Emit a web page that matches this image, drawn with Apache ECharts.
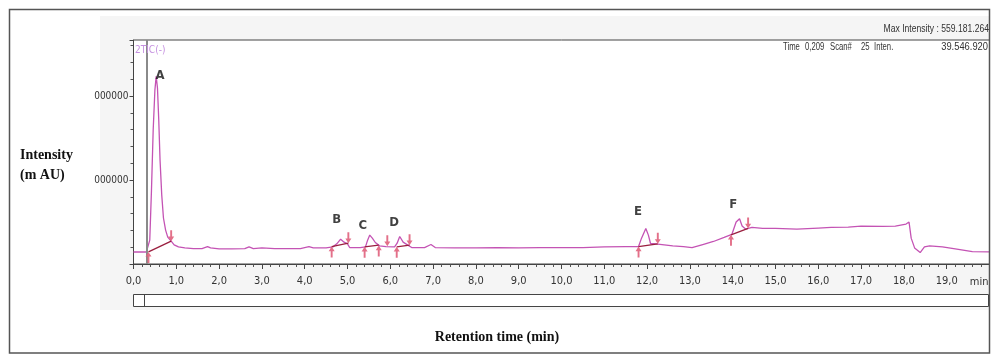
<!DOCTYPE html>
<html>
<head>
<meta charset="utf-8">
<script src="https://cdn.jsdelivr.net/npm/echarts@6/dist/echarts.min.js"></script>
<style>
html,body{margin:0;padding:0;background:#fff;}
#chart{width:992px;height:356px;}
</style>
</head>
<body>
<div id="chart"></div>
<script>
// ---- data (retention time in min, intensity in counts) ----
const times = [0.00,0.30,0.34,0.38,0.42,0.46,0.50,0.53,0.56,0.59,0.62,0.66,0.70,0.75,0.80,0.88,0.95,1.05,1.20,1.40,1.60,1.73,1.80,2.00,2.30,2.60,2.70,2.80,3.00,3.30,3.60,3.90,4.10,4.20,4.50,4.66,4.75,4.84,4.92,5.00,5.05,5.30,5.42,5.47,5.52,5.58,5.65,5.75,5.90,6.10,6.16,6.22,6.30,6.40,6.50,6.80,6.95,7.05,7.50,8.00,8.50,9.00,9.50,10.00,10.50,11.00,11.50,11.80,11.87,11.97,12.03,12.08,12.20,12.35,12.60,12.85,13.05,13.30,13.55,13.80,13.98,14.08,14.16,14.22,14.30,14.45,14.70,15.00,15.50,16.00,16.30,16.70,17.00,17.50,17.80,18.05,18.12,18.17,18.25,18.38,18.48,18.60,18.90,19.20,19.60,20.00];
const intensity = [35.7e6,35.7e6,38.7e6,71e6,220e6,399e6,518e6,559e6,524e6,429e6,310e6,205e6,137e6,101e6,80e6,68e6,57e6,51e6,48e6,46e6,46e6,52e6,48e6,45e6,45e6,46e6,51e6,46e6,48e6,46e6,46e6,46e6,52e6,48e6,48e6,51e6,60e6,74e6,65e6,60e6,49e6,49e6,51e6,71e6,86e6,77e6,64e6,54e6,52e6,51e6,62e6,82e6,65e6,57e6,49e6,49e6,58e6,49e6,48e6,48e6,49e6,48e6,49e6,49e6,49e6,51e6,52e6,52e6,77e6,106e6,86e6,61e6,60e6,58e6,54e6,52e6,49e6,58e6,67e6,79e6,88e6,125e6,135e6,113e6,104e6,109e6,106e6,106e6,104e6,107e6,109e6,110e6,113e6,112e6,113e6,119e6,125e6,77e6,48e6,34e6,51e6,54e6,51e6,45e6,37e6,36e6];

// integration baselines under peaks: [startT, startI, endT, endI]
const baseStartT = [0.35, 4.63, 5.40, 6.15, 11.80, 13.96];
const baseStartI = [36e6, 52e6, 51e6, 51e6, 52e6, 87e6];
const baseEndT   = [0.88, 5.02, 5.73, 6.45, 12.25, 14.36];
const baseEndI   = [68e6, 62e6, 56e6, 56e6, 60e6, 106e6];

// peak start (up) / end (down) markers
const upArrowT = [0.35, 4.63, 5.40, 5.73, 6.15, 11.80, 13.96];
const upArrowI = [36e6, 52e6, 51e6, 55e6, 51e6, 52e6, 87e6];
const downArrowT = [0.88, 5.02, 5.93, 6.45, 12.25, 14.36];
const downArrowI = [68e6, 62e6, 53e6, 56e6, 60e6, 106e6];

// peak names
const peakNames = ['A','B','C','D','E','F'];
const peakLabelT = [0.62, 4.75, 5.36, 6.09, 11.79, 14.01];
const peakLabelI = [562e6, 131e6, 113e6, 122e6, 155e6, 176e6];

// tick labels
const xTickLabels = ['0,0','1,0','2,0','3,0','4,0','5,0','6,0','7,0','8,0','9,0','10,0','11,0','12,0','13,0','14,0','15,0','16,0','17,0','18,0','19,0'];
const yTickValues = [250e6, 500e6];
const yTickLabels = ['000000', '000000'];

const cursorTime = 0.31;

// ---- build ----
const narrow = "'Liberation Sans Narrow','DejaVu Sans Condensed','Liberation Sans',sans-serif";
const serif = "'Liberation Serif','DejaVu Serif',serif";
const hdrFont = "11px 'Liberation Sans',sans-serif";
const trace = times.map((t, i) => [t, intensity[i]]);
const baseSeries = baseStartT.map((t, i) => ({
  type: 'line', silent: true, symbol: 'none', z: 4,
  lineStyle: { color: '#9a1f3f', width: 1.3 },
  data: [[t, baseStartI[i]], [baseEndT[i], baseEndI[i]]]
}));
const arrowPath = 'path://M5,0 L10,6 L6.6,6 L6.6,14 L3.4,14 L3.4,6 L0,6 Z';

function hdr(text, x, y, align, sx) {
  return { type: 'text', z: 100, x: x, y: y, scaleX: sx, silent: true,
    style: { text: text, font: hdrFont, fill: '#333', textAlign: align, textVerticalAlign: 'middle' } };
}

const chart = echarts.init(document.getElementById('chart'), null, { renderer: 'canvas' });
chart.setOption({
  backgroundColor: '#ffffff',
  animation: false,
  grid: { left: 133.5, right: 2.5, top: 40, bottom: 92, show: true, backgroundColor: '#ffffff', borderColor: '#444', borderWidth: 1, z: 1 },
  xAxis: {
    type: 'value', min: 0, max: 20, interval: 1,
    name: 'min', nameLocation: 'end', nameGap: -1,
    nameTextStyle: { fontFamily: narrow, fontSize: 11, color: '#333', align: 'right', verticalAlign: 'top', padding: [13, 0, 0, 0] },
    axisLine: { show: true, lineStyle: { color: '#444', width: 1 } },
    axisTick: { show: true, length: 5, lineStyle: { color: '#444' } },
    minorTick: { show: true, splitNumber: 5, length: 3, lineStyle: { color: '#555' } },
    axisLabel: { margin: 12, fontFamily: narrow, fontSize: 11, color: '#333', showMaxLabel: false,
      formatter: v => { const k = Math.round(v); return xTickLabels[k] !== undefined ? xTickLabels[k] : ''; } },
    splitLine: { show: true, lineStyle: { color: '#d4d4d4', type: [3, 3], width: 1 } },
    minorSplitLine: { show: false }
  },
  yAxis: {
    type: 'value', min: 0, max: 667e6, interval: 250e6,
    axisLine: { show: true, lineStyle: { color: '#444', width: 1 } },
    axisTick: { show: true, length: 4, lineStyle: { color: '#444' } },
    minorTick: { show: true, splitNumber: 5, length: 3, lineStyle: { color: '#555' } },
    axisLabel: { margin: 5, fontFamily: narrow, fontSize: 10, color: '#333', showMinLabel: false, showMaxLabel: false,
      formatter: v => { const k = yTickValues.indexOf(v); return k >= 0 ? yTickLabels[k] : ''; } },
    splitLine: { show: true, lineStyle: { color: '#d4d4d4', type: [3, 3], width: 1 } }
  },
  series: [
    {
      type: 'line', name: '2TIC(-)', symbol: 'none', z: 3,
      lineStyle: { color: '#c453b4', width: 1.3 },
      data: trace,
      markLine: {
        silent: true, symbol: 'none', label: { show: false },
        lineStyle: { color: '#8a8a8a', width: 2, type: 'solid' },
        data: [{ xAxis: cursorTime }]
      }
    },
    ...baseSeries,
    {
      type: 'scatter', silent: true, z: 5,
      symbol: arrowPath, symbolSize: [6, 11], symbolOffset: [0, '50%'],
      itemStyle: { color: '#e0607c', opacity: 0.9 },
      data: upArrowT.map((t, i) => [t, upArrowI[i]])
    },
    {
      type: 'scatter', silent: true, z: 5,
      symbol: arrowPath, symbolSize: [6, 11], symbolRotate: 180, symbolOffset: [0, '-50%'],
      itemStyle: { color: '#e0607c', opacity: 0.9 },
      data: downArrowT.map((t, i) => [t, downArrowI[i]])
    },
    {
      type: 'scatter', silent: true, z: 6, symbolSize: 1,
      itemStyle: { color: 'rgba(0,0,0,0)' },
      label: { show: true, position: 'inside', formatter: p => p.name,
        fontFamily: narrow, fontWeight: 'bold', fontSize: 13, color: '#111' },
      data: peakNames.map((n, i) => ({ name: n, value: [peakLabelT[i], peakLabelI[i]] }))
    }
  ],
  graphic: [
    { type: 'rect', z: -100, silent: true, shape: { x: 100, y: 16, width: 890, height: 294 }, style: { fill: '#f5f5f5' } },
    { type: 'rect', z: 100, silent: true, shape: { x: 9.5, y: 9.5, width: 980, height: 343.5 }, style: { fill: 'none', stroke: '#555', lineWidth: 1.5 } },
    { type: 'rect', z: 100, silent: true, shape: { x: 133.5, y: 294.5, width: 855, height: 12 }, style: { fill: '#fff', stroke: '#444', lineWidth: 1 } },
    { type: 'line', z: 100, silent: true, shape: { x1: 144.5, y1: 294.5, x2: 144.5, y2: 306.5 }, style: { stroke: '#444', lineWidth: 1 } },
    { type: 'text', z: 100, x: 135, y: 50, silent: true, style: { text: '2TIC(-)', font: "10px " + narrow, fill: '#c590e0', textVerticalAlign: 'middle' } },
    hdr('Max Intensity : 559.181.264', 989, 28.5, 'right', 0.78),
    hdr('Time', 783, 46.5, 'left', 0.7),
    hdr('0,209', 805, 46.5, 'left', 0.7),
    hdr('Scan#', 830, 46.5, 'left', 0.7),
    hdr('25', 861, 46.5, 'left', 0.7),
    hdr('Inten.', 874, 46.5, 'left', 0.7),
    hdr('39.546.920', 988, 46.5, 'right', 0.85),
    { type: 'text', z: 100, x: 20, y: 155, silent: true, style: { text: 'Intensity', font: "bold 14px " + serif, fill: '#111', textVerticalAlign: 'middle' } },
    { type: 'text', z: 100, x: 20, y: 175, silent: true, style: { text: '(m AU)', font: "bold 14px " + serif, fill: '#111', textVerticalAlign: 'middle' } },
    { type: 'text', z: 100, x: 497, y: 337, silent: true, style: { text: 'Retention time (min)', font: "bold 14px " + serif, fill: '#111', textAlign: 'center', textVerticalAlign: 'middle' } }
  ]
});
</script>
</body>
</html>
